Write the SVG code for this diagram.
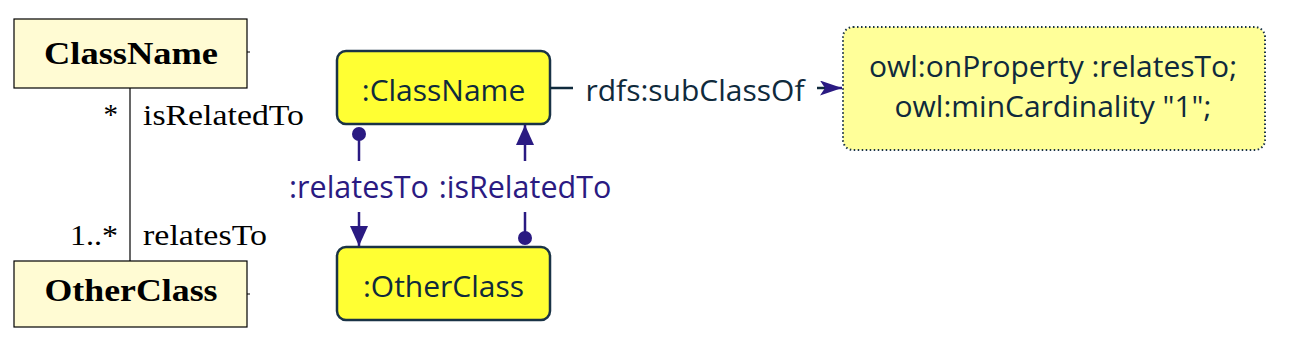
<svg xmlns="http://www.w3.org/2000/svg" width="1291" height="360" viewBox="0 0 1291 360">
<style>
.uml{fill:#fffbd3;stroke:#000;stroke-width:1.2}
.umlt{font-family:"Liberation Serif",serif;font-weight:bold;font-size:31px;fill:#000;text-anchor:middle}
.role{font-family:"Liberation Serif",serif;font-size:29px;fill:#000}
.node{fill:#ffff33;stroke:#1a3346;stroke-width:2.5}
.nt{font-family:"Open Sans","DejaVu Sans",sans-serif;font-size:30px;fill:#0f2a3c;text-anchor:middle}
.restr{fill:#ffff99;stroke:#1a3346;stroke-width:2;stroke-dasharray:1.5 2.5}
.lbl{font-family:"Open Sans","DejaVu Sans",sans-serif;font-size:30.5px;fill:#2a1a82;text-anchor:middle}
.lk{stroke:#2a1a82;stroke-width:2.5;fill:none}
</style>
<defs>
<marker id="arrbig" viewBox="0 0 20 18" refX="20" refY="9" markerWidth="20" markerHeight="18" markerUnits="userSpaceOnUse" orient="auto">
<path d="M0,0 L20,9 L0,18 z" fill="#2a1a82"/>
</marker>
<marker id="stealth" viewBox="0 0 22 15" refX="22" refY="7.5" markerWidth="22" markerHeight="15" markerUnits="userSpaceOnUse" orient="auto">
<path d="M0,0 L22,7.5 L0,15 L5,7.5 z" fill="#2a1a82"/>
</marker>
</defs>
<g id="uml-classname">
<rect class="uml" x="14" y="19" width="233" height="69"/>
<line x1="247" y1="52" x2="250" y2="52" stroke="#000" stroke-width="1"/>
<text class="umlt" x="131" y="64" textLength="174" lengthAdjust="spacingAndGlyphs">ClassName</text>
</g>
<g id="uml-otherclass">
<rect class="uml" x="14" y="261" width="233" height="66"/>
<line x1="247" y1="294" x2="250" y2="294" stroke="#000" stroke-width="1"/>
<text class="umlt" x="131" y="301" textLength="173" lengthAdjust="spacingAndGlyphs">OtherClass</text>
</g>
<g id="uml-association">
<line x1="130" y1="88" x2="130" y2="261" stroke="#000" stroke-width="1.2"/>
<text class="role" x="118" y="124" text-anchor="end">*</text>
<text class="role" x="143" y="125" textLength="161" lengthAdjust="spacingAndGlyphs">isRelatedTo</text>
<text class="role" x="118" y="245" text-anchor="end" textLength="48" lengthAdjust="spacingAndGlyphs">1..*</text>
<text class="role" x="143" y="245" textLength="124" lengthAdjust="spacingAndGlyphs">relatesTo</text>
</g>
<g id="classname">
<rect class="node" x="337" y="51" width="213" height="73" rx="9"/>
<text class="nt" x="443.5" y="101">:ClassName</text>
</g>
<g id="otherclass">
<rect class="node" x="337" y="247" width="213" height="73" rx="9"/>
<text class="nt" x="443.5" y="297">:OtherClass</text>
</g>
<g id="restriction">
<rect class="restr" x="843" y="27" width="422" height="123" rx="10"/>
<text class="nt" x="1053" y="77">owl:onProperty :relatesTo;</text>
<text class="nt" x="1053" y="117">owl:minCardinality "1";</text>
</g>
<g id="connectors">
<line x1="550" y1="88" x2="573" y2="88" stroke="#0f2a3c" stroke-width="2.5"/>
<text class="nt" x="695" y="101">rdfs:subClassOf</text>
<line x1="817" y1="88" x2="830" y2="88" stroke="#0f2a3c" stroke-width="2.5"/>
<line class="lk" x1="826" y1="88" x2="842" y2="88" marker-end="url(#stealth)"/>
<circle cx="359" cy="134" r="7" fill="#2a1a82"/>
<line class="lk" x1="359" y1="134" x2="359" y2="161"/>
<text class="lbl" x="359" y="198">:relatesTo</text>
<line class="lk" x1="359" y1="212" x2="359" y2="246" marker-end="url(#arrbig)"/>
<line class="lk" x1="525" y1="161" x2="525" y2="125" marker-end="url(#arrbig)"/>
<text class="lbl" x="525" y="198">:isRelatedTo</text>
<line class="lk" x1="525" y1="212" x2="525" y2="238"/>
<circle cx="525" cy="238" r="7" fill="#2a1a82"/>
</g>
</svg>
